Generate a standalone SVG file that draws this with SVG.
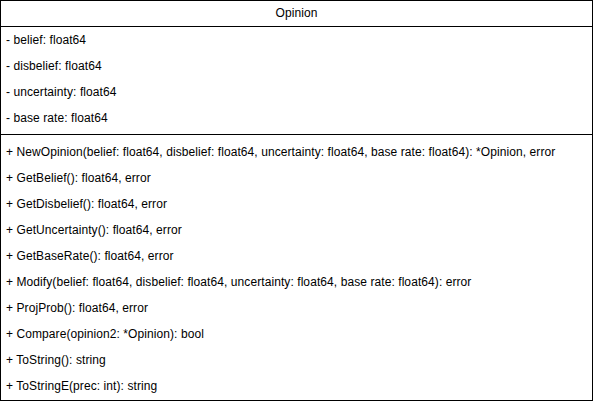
<svg xmlns="http://www.w3.org/2000/svg" width="593" height="402" viewBox="0 0 593 402">
<style>
text{font-family:"Liberation Sans",Arial,sans-serif;font-size:12px;fill:#000;letter-spacing:0.08px}
.ln{stroke:#000;stroke-width:1;fill:none}
</style>
<rect width="593" height="402" fill="#fff"/>
<g id="Opinion">
<rect class="ln" x="0.5" y="0.5" width="592" height="400" fill="#fff"/>
<line class="ln" x1="0.5" y1="26.5" x2="592.5" y2="26.5"/>
<line class="ln" x1="0.5" y1="134.5" x2="592.5" y2="134.5"/>
<text x="296.5" y="17" text-anchor="middle">Opinion</text>
<text x="6" y="44">- belief: float64</text>
<text x="6" y="70">- disbelief: float64</text>
<text x="6" y="96">- uncertainty: float64</text>
<text x="6" y="122">- base rate: float64</text>
<text x="6" y="156">+ NewOpinion(belief: float64, disbelief: float64, uncertainty: float64, base rate: float64): *Opinion, error</text>
<text x="6" y="182">+ GetBelief(): float64, error</text>
<text x="6" y="208">+ GetDisbelief(): float64, error</text>
<text x="6" y="234">+ GetUncertainty(): float64, error</text>
<text x="6" y="260">+ GetBaseRate(): float64, error</text>
<text x="6" y="286">+ Modify(belief: float64, disbelief: float64, uncertainty: float64, base rate: float64): error</text>
<text x="6" y="312">+ ProjProb(): float64, error</text>
<text x="6" y="338">+ Compare(opinion2: *Opinion): bool</text>
<text x="6" y="364">+ ToString(): string</text>
<text x="6" y="390">+ ToStringE(prec: int): string</text>
</g>
<g id="connectors"/>
</svg>
